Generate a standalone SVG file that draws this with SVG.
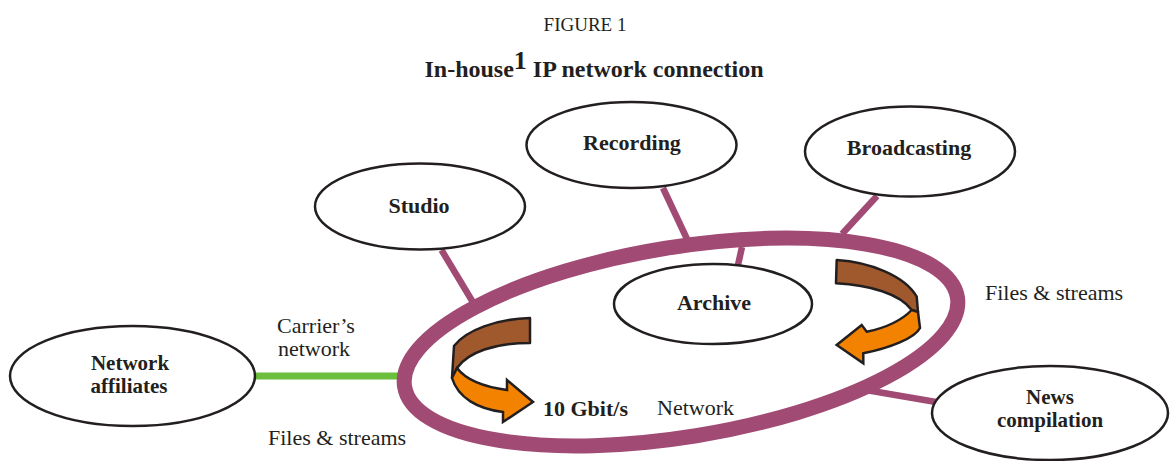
<svg xmlns="http://www.w3.org/2000/svg" width="1170" height="461" viewBox="0 0 1170 461">
<style>
  .t { font-family: "Liberation Serif", "Times New Roman", serif; fill: #231f20; }
  .reg { font-size: 22px; }
  .b { font-size: 22px; font-weight: bold; text-anchor: middle; }
  .b2 { font-size: 21px; font-weight: bold; text-anchor: middle; }
  .node { fill: #ffffff; stroke: #231f20; stroke-width: 2.5; }
  .link { stroke: #a14a74; stroke-width: 6.5; fill: none; stroke-linecap: butt; }
  .brown { fill: #a0592c; stroke: #231f20; stroke-width: 2.5; stroke-linejoin: round; }
  .orange { fill: #f28200; stroke: #231f20; stroke-width: 2.5; stroke-linejoin: miter; }
</style>
<rect width="1170" height="461" fill="#ffffff"/>

<text class="t" x="585" y="31" font-size="19" text-anchor="middle">FIGURE 1</text>
<text class="t" x="594" y="77" font-size="24" font-weight="bold" text-anchor="middle">In-house<tspan font-size="26" dy="-8">1</tspan><tspan dy="8"> IP network connection</tspan></text>

<g id="connectors">
  <line class="link" x1="441.5" y1="250" x2="474" y2="304"/>
  <line class="link" x1="663" y1="188" x2="687" y2="239"/>
  <line class="link" x1="877" y1="196" x2="842" y2="234"/>
  <line class="link" x1="742" y1="247" x2="738" y2="265"/>
  <line class="link" x1="866" y1="390" x2="936" y2="402"/>
  <line x1="255" y1="376" x2="403" y2="376" stroke="#6cbf3c" stroke-width="7"/>
</g>

<g id="network">
  <ellipse cx="681" cy="342" rx="280" ry="95" transform="rotate(-9.2 681 342)" fill="none" stroke="#a14a74" stroke-width="15"/>
  <text class="t reg" x="657" y="415">Network</text>
  <text class="t" x="543" y="416" font-size="22" font-weight="bold">10 Gbit/s</text>
</g>

<g id="arrow-left">
  <path class="brown" d="M530,318 C497,319 466,330 454,346 L452,378 L457,368 C468,352 495,343 530,343 Z"/>
  <path class="orange" d="M457,368 C466,380 485,387 507,390 L507,380 L533,402 L503,422 L503,412 C478,409 458,398 452,378 Z"/>
</g>

<g id="arrow-right">
  <path class="brown" d="M836.7,260 C870,262 905,276 916.7,296.7 L918,312 L911.7,310 C900,294 870,285 836,283.3 Z"/>
  <path class="orange" d="M911.7,310 C900,322 885,328 866.7,331.7 L861.7,325 L836.7,345 L863.3,363.3 L863.3,353.3 C890,348 915,338 920,328 L918,312 Z"/>
</g>

<g id="network-affiliates">
  <ellipse class="node" cx="132.5" cy="376" rx="122.5" ry="50"/>
  <text class="t b2" x="130" y="370">Network</text>
  <text class="t b2" x="129" y="393">affiliates</text>
</g>

<g id="studio">
  <ellipse class="node" cx="420" cy="206.5" rx="105" ry="43"/>
  <text class="t b" x="419" y="213">Studio</text>
</g>

<g id="recording">
  <ellipse class="node" cx="631.5" cy="145" rx="105" ry="43"/>
  <text class="t b" x="632" y="150">Recording</text>
</g>

<g id="broadcasting">
  <ellipse class="node" cx="910" cy="151.5" rx="105" ry="45"/>
  <text class="t b" x="909" y="155">Broadcasting</text>
</g>

<g id="archive">
  <ellipse class="node" cx="713" cy="304" rx="99" ry="40"/>
  <text class="t b" x="714" y="310">Archive</text>
</g>

<g id="news-compilation">
  <ellipse class="node" cx="1050" cy="413" rx="118" ry="47"/>
  <text class="t b2" x="1050" y="404">News</text>
  <text class="t b2" x="1050" y="427">compilation</text>
</g>

<g id="labels">
  <text class="t reg" x="316" y="333" text-anchor="middle">Carrier’s</text>
  <text class="t reg" x="314" y="356" text-anchor="middle">network</text>
  <text class="t reg" x="268" y="445">Files &amp; streams</text>
  <text class="t reg" x="985" y="300">Files &amp; streams</text>
</g>
</svg>
